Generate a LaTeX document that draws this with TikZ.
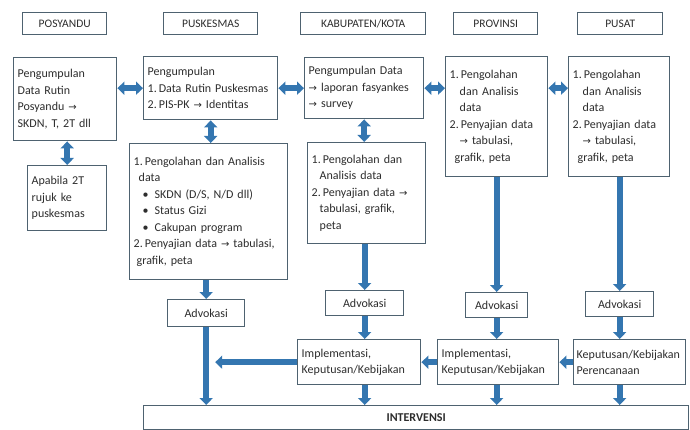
\documentclass[tikz,border=0pt]{standalone}
\usepackage{fontspec}
\setmainfont{Carlito}
\newfontfamily\symfont{DejaVu Sans}
\usetikzlibrary{arrows.meta}
\definecolor{boxline}{RGB}{78,98,112}
\definecolor{flowblue}{RGB}{52,118,176}
\definecolor{txtgray}{RGB}{45,45,45}
\newcommand{\toarr}{{\symfont\fontsize{10}{10}\selectfont\char"2192}}

\begin{document}
\begin{tikzpicture}[
      x=1pt, y=-1pt,
      every node/.style={font=\fontsize{12}{16.5}\selectfont, text=txtgray},
      box/.style={
        rectangle, draw=boxline, fill=white, line width=1.4pt,
        align=left, inner xsep=4pt, inner ysep=3pt, anchor=north west
      },
      head/.style={box, align=center, font=\fontsize{11.5}{14}\selectfont},
      arr/.style={-{Triangle[width=13pt,length=7pt]}, line width=6pt, draw=flowblue},
      darr/.style={{Triangle[width=13pt,length=7pt]}-{Triangle[width=13pt,length=7pt]},
        line width=6pt, draw=flowblue}
    ]
      \useasboundingbox (0,0) rectangle (690,430);

      % level headers
      \node[head, minimum width=84pt, minimum height=22pt] (hposy) at (22,12) {POSYANDU};
      \node[head, minimum width=94pt, minimum height=22pt] (hpusk) at (163,12) {PUSKESMAS};
      \node[head, minimum width=125pt, minimum height=22pt] (hkab) at (300,12) {KABUPATEN/KOTA};
      \node[head, minimum width=84pt, minimum height=22pt] (hprov) at (453,12) {PROVINSI};
      \node[head, minimum width=85pt, minimum height=22pt] (hpus) at (577,12) {PUSAT};

      % data collection / processing
      \node[box, text width=95pt, minimum height=83pt] (posdata) at (13,57) {
        Pengumpulan\\Data Rutin\\Posyandu \toarr\\SKDN, T, 2T dll};
      \node[box, text width=126pt, minimum height=63pt] (puskcol) at (143,56) {
        Pengumpulan\\1.\,Data Rutin Puskesmas\\2.\,PIS-PK \toarr{} Identitas};
      \node[box, text width=111pt, minimum height=61pt] (kabcol) at (304,57) {
        Pengumpulan Data\\\toarr{} laporan fasyankes\\\toarr{} survey};
      \node[box, text width=94pt, minimum height=120pt] (prov) at (445,56) {
        1.\,Pengolahan\\\hspace*{10pt}dan Analisis\\\hspace*{10pt}data\\
        2.\,Penyajian data\\\hspace*{10pt}\toarr{} tabulasi,\\\hspace*{5pt}grafik, peta};
      \node[box, text width=93pt, minimum height=120pt] (pusat) at (568,56) {
        1.\,Pengolahan\\\hspace*{10pt}dan Analisis\\\hspace*{10pt}data\\
        2.\,Penyajian data\\\hspace*{10pt}\toarr{} tabulasi,\\\hspace*{5pt}grafik, peta};

      \node[box, text width=71pt, minimum height=65pt] (apabila) at (27,165) {
        Apabila 2T\\rujuk ke\\puskesmas};
      \node[box, text width=150pt, minimum height=136pt] (puskproc) at (129,143) {
        1.\,Pengolahan dan Analisis\\\hspace*{5pt}data\\
        \hspace*{9pt}\textbullet\hspace{6pt}SKDN (D/S, N/D dll)\\
        \hspace*{9pt}\textbullet\hspace{6pt}Status Gizi\\
        \hspace*{9pt}\textbullet\hspace{6pt}Cakupan program\\
        2.\,Penyajian data \toarr{} tabulasi,\\\hspace*{3pt}grafik, peta};
      \node[box, text width=110pt, minimum height=101pt] (kabproc) at (307,142) {
        1.\,Pengolahan dan\\\hspace*{8pt}Analisis data\\
        2.\,Penyajian data \toarr\\\hspace*{8pt}tabulasi, grafik,\\\hspace*{8pt}peta};

      % advokasi
      \node[head, font=\fontsize{12}{14}\selectfont, minimum width=77pt, minimum height=27pt] (puskadv) at (167,299) {Advokasi};
      \node[head, font=\fontsize{12}{14}\selectfont, minimum width=78pt, minimum height=25pt] (kabadv) at (325,290) {Advokasi};
      \node[head, font=\fontsize{12}{14}\selectfont, minimum width=62pt, minimum height=25pt] (provadv) at (465,292) {Advokasi};
      \node[head, font=\fontsize{12}{14}\selectfont, minimum width=68pt, minimum height=25pt] (pusadv) at (585,291) {Advokasi};

      % implementation
      \node[box, text width=115pt, minimum height=45pt] (kabimp) at (297,339) {
        Implementasi,\\Keputusan/Kebijakan};
      \node[box, text width=113pt, minimum height=45pt] (provimp) at (437,339) {
        Implementasi,\\Keputusan/Kebijakan};
      \node[box, inner xsep=3pt, text width=106pt, minimum height=45pt] (pusimp) at (573,339) {
        Keputusan/Kebijakan\\Perencanaan};

      \node[head, font=\fontsize{12}{14}\selectfont\bfseries, minimum width=545pt, minimum height=24pt] (interv) at (143,405) {INTERVENSI};

      % two-way links
      \draw[darr] (posdata.east |- puskcol.west) -- (puskcol.west);
      \draw[darr] (puskcol.east) -- (kabcol.west);
      \draw[darr] (kabcol.east) -- (kabcol.east -| prov.west);
      \draw[darr] (prov.east |- kabcol.east) -- (pusat.west |- kabcol.east);
      \draw[darr] (apabila.north |- posdata.south) -- (apabila.north);
      \draw[darr] (puskcol.south) -- (puskcol.south |- puskproc.north);
      \draw[darr] (kabcol.south) -- (kabcol.south |- kabproc.north);

      % down to advokasi
      \draw[arr] (puskproc.south -| puskadv.north) -- (puskadv.north);
      \draw[arr] (kabproc.south -| kabadv.north) -- (kabadv.north);
      \draw[arr] (prov.south -| provadv.north) -- (provadv.north);
      \draw[arr] (pusat.south -| pusadv.north) -- (pusadv.north);

      \draw[arr] (kabadv.south) -- (kabadv.south |- kabimp.north);
      \draw[arr] (provadv.south) -- (provadv.south |- provimp.north);
      \draw[arr] (pusadv.south) -- (pusadv.south |- pusimp.north);

      % into intervensi
      \draw[arr] (puskadv.south) -- (puskadv.south |- interv.north);
      \draw[arr] (kabimp.south -| kabadv.south) -- (kabadv.south |- interv.north);
      \draw[arr] (provimp.south -| provadv.south) -- (provadv.south |- interv.north);
      \draw[arr] (pusimp.south -| pusadv.south) -- (pusadv.south |- interv.north);

      % feedback leftwards
      \coordinate (merge) at (puskadv.south |- kabimp.west);
      \draw[arr] (kabimp.west) -- ([xshift=9pt]merge);
      \draw[arr] (provimp.west) -- (kabimp.east);
      \draw[arr] (pusimp.west) -- (provimp.east);
    \end{tikzpicture}
\end{document}
